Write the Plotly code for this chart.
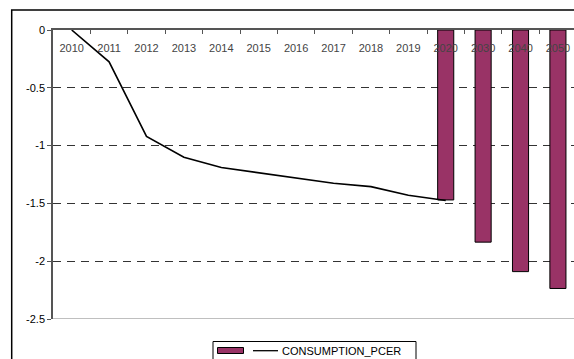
import plotly.graph_objects as go

categories = ["2010", "2011", "2012", "2013", "2014", "2015", "2016", "2017",
              "2018", "2019", "2020", "2030", "2040", "2050"]
line_years = ["2010", "2011", "2012", "2013", "2014", "2015", "2016", "2017",
              "2018", "2019", "2020"]
line_values = [0.0, -0.275, -0.92, -1.10, -1.19, -1.235, -1.28, -1.325,
               -1.355, -1.43, -1.475]
bar_years = ["2020", "2030", "2040", "2050"]
bar_values = [-1.47, -1.835, -2.09, -2.236]
y_ticks = [0, -0.5, -1, -1.5, -2, -2.5]
y_tick_labels = ["0", "-0.5", "-1", "-1.5", "-2", "-2.5"]
series_name = "CONSUMPTION_PCER"
bar_color = "#993366"

# plot area in pixels: x 53..574, y 30..319
W, H = 574, 359
L, R, T, B = 53, 0, 30, 40
pw, ph = W - L - R, H - T - B


def px(x):
    return (x - L) / pw


def py(y):
    return (H - B - y) / ph


fig = go.Figure()
fig.add_trace(go.Bar(
    x=bar_years, y=bar_values, name=series_name,
    marker=dict(color=bar_color, line=dict(color="black", width=1)),
    width=0.43,
))
fig.add_trace(go.Scatter(
    x=line_years, y=line_values, name=series_name, mode="lines",
    line=dict(color="black", width=1.6),
))

shapes = [
    dict(type="line", xref="paper", yref="y", x0=0, x1=1, y0=-2.5, y1=-2.5,
         line=dict(color="#aaaaaa", width=1.5), layer="below"),
    dict(type="rect", xref="paper", yref="paper",
         x0=px(11.7), x1=1.05, y0=-0.3, y1=py(10),
         line=dict(color="black", width=1.5), layer="below"),
    # legend box
    dict(type="rect", xref="paper", yref="paper",
         x0=px(213), x1=px(416), y0=py(372), y1=py(341.5),
         line=dict(color="black", width=1), fillcolor="white"),
    # legend swatch for bars
    dict(type="rect", xref="paper", yref="paper",
         x0=px(217.5), x1=px(243.5), y0=py(353.5), y1=py(347.5),
         line=dict(color="black", width=1), fillcolor=bar_color),
    # legend line sample
    dict(type="line", xref="paper", yref="paper",
         x0=px(253), x1=px(278), y0=py(350.7), y1=py(350.7),
         line=dict(color="black", width=1.3)),
]

annotations = [
    dict(text=series_name, xref="paper", yref="paper", x=px(279.5), y=py(351),
         xanchor="left", yanchor="middle", showarrow=False,
         font=dict(size=11, color="black")),
]

fig.update_layout(
    width=W, height=H,
    margin=dict(l=L, r=R, t=T, b=B),
    paper_bgcolor="white", plot_bgcolor="white",
    font=dict(family="Liberation Sans, Arial, sans-serif", size=11, color="black"),
    showlegend=False,
    xaxis=dict(
        type="category", categoryorder="array", categoryarray=categories,
        range=[-0.5, 13.43], side="top", anchor="y",
        showline=True, linecolor="#555555", linewidth=1.5,
        ticks="inside", ticklen=4, tickcolor="#555555", tickson="boundaries",
        ticklabelposition="inside", ticklabelstandoff=10,
        ticklabeloverflow="allow", layer="above traces",
        showgrid=False, zeroline=False,
    ),
    yaxis=dict(
        range=[-2.5, 0.0001], tickvals=y_ticks, ticktext=y_tick_labels,
        showline=True, linecolor="#555555", linewidth=1.5,
        ticks="outside", ticklen=4, tickcolor="#555555",
        showgrid=True, gridcolor="#333333", gridwidth=1, griddash="8px,6px",
        zeroline=False,
    ),
    shapes=shapes,
    annotations=annotations,
)

fig.write_html("out.html")
